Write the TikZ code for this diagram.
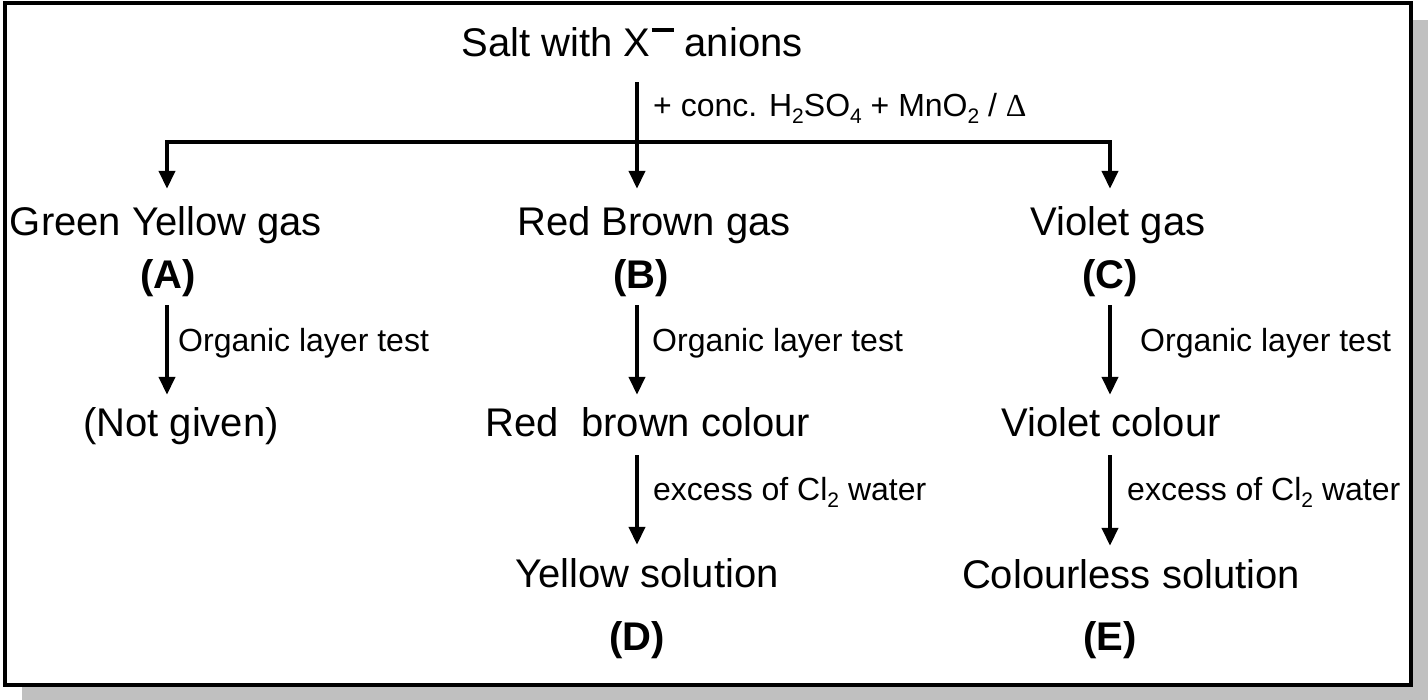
\documentclass[tikz,border=0pt]{standalone}
\usepackage{fontspec}
\setmainfont{Liberation Sans}
\newfontfamily\deltafont{Liberation Serif}
\usetikzlibrary{arrows.meta}
\definecolor{shadowgray}{HTML}{C0C0C0}
\newcommand\mysub[1]{\raisebox{-0.2em}{\fontsize{21}{21}\selectfont #1}}
\begin{document}
\begin{tikzpicture}[x=1pt,y=-1pt,
  big/.style={font=\fontsize{40}{48}\selectfont, inner sep=0pt, text height=29pt, text depth=9pt, anchor=base},
  bigb/.style={big, font=\fontsize{40}{48}\selectfont\bfseries},
  lab/.style={font=\fontsize{32}{38}\selectfont, inner sep=0pt, anchor=base west},
  arr/.style={line width=4pt, -{Triangle[width=16pt,length=18pt]}},
  arrs/.style={line width=4pt, {Triangle[width=16pt,length=18pt]}-{Triangle[width=16pt,length=18pt]}},
]
\useasboundingbox (0,0) rectangle (1428,700);
\fill[shadowgray] (22,20) rectangle (1428,700);
\draw[line width=4pt, fill=white] (5,3) rectangle (1411,685);

% column axes
\coordinate (cA) at (167,0);
\coordinate (cB) at (637,0);
\coordinate (cC) at (1110,0);
\coordinate (j) at (637,142);

% nodes
\node[big] (salt) at (632,57) {Salt with X\kern0.03em\raisebox{0.63em}{\rule{0.55em}{0.085em}}\ anions};
\node[lab] (reag) at (653,117) {+ conc. H\mysub{2}SO\mysub{4} + MnO\mysub{2} / {\deltafont Δ}};

\node[big] (gA) at (166,236) {Green Yellow gas};
\node[big] (gB) at (654,236) {Red Brown gas};
\node[big] (gC) at (1118,236) {Violet gas};
\node[bigb] (A) at (168,289) {(A)};
\node[bigb] (B) at (641,289) {(B)};
\node[bigb] (C) at (1110,289) {(C)};

\node[lab] (tA) at (178,352) {Organic layer test};
\node[lab] (tB) at (652,352) {Organic layer test};
\node[lab] (tC) at (1140,352) {Organic layer test};

\node[big] (ng) at (181,437) {(Not given)};
\node[big] (rb) at (648,437) {Red\ \ brown colour};
\node[big] (vc) at (1111,437) {Violet colour};

\node[lab] (eB) at (653,501) {excess of Cl\mysub{2} water};
\node[lab] (eC) at (1127,501) {excess of Cl\mysub{2} water};

\node[big] (ys) at (647,587) {Yellow solution};
\node[big] (cs) at (1131,588) {Colourless solution};
\node[bigb] (D) at (637,650) {(D)};
\node[bigb] (E) at (1110,650) {(E)};

% connectors
\draw[arr, shorten <=16pt, shorten >=18pt] (salt.south -| cB) -- (gB.north -| cB);
\draw[arrs, shorten <=18pt, shorten >=18pt] (gC.north -| cC) -- (j -| cC) -- (j -| cA) -- (gA.north -| cA);

\draw[arr, shorten <=7pt, shorten >=13pt] (A.south -| cA) -- (ng.north -| cA);
\draw[arr, shorten <=7pt, shorten >=13pt] (B.south -| cB) -- (rb.north -| cB);
\draw[arr, shorten <=7pt, shorten >=13pt] (C.south -| cC) -- (vc.north -| cC);

\draw[arr, shorten <=9pt, shorten >=13pt] (rb.south -| cB) -- (ys.north -| cB);
\draw[arr, shorten <=9pt, shorten >=13pt] (vc.south -| cC) -- (cs.north -| cC);
\end{tikzpicture}
\end{document}
